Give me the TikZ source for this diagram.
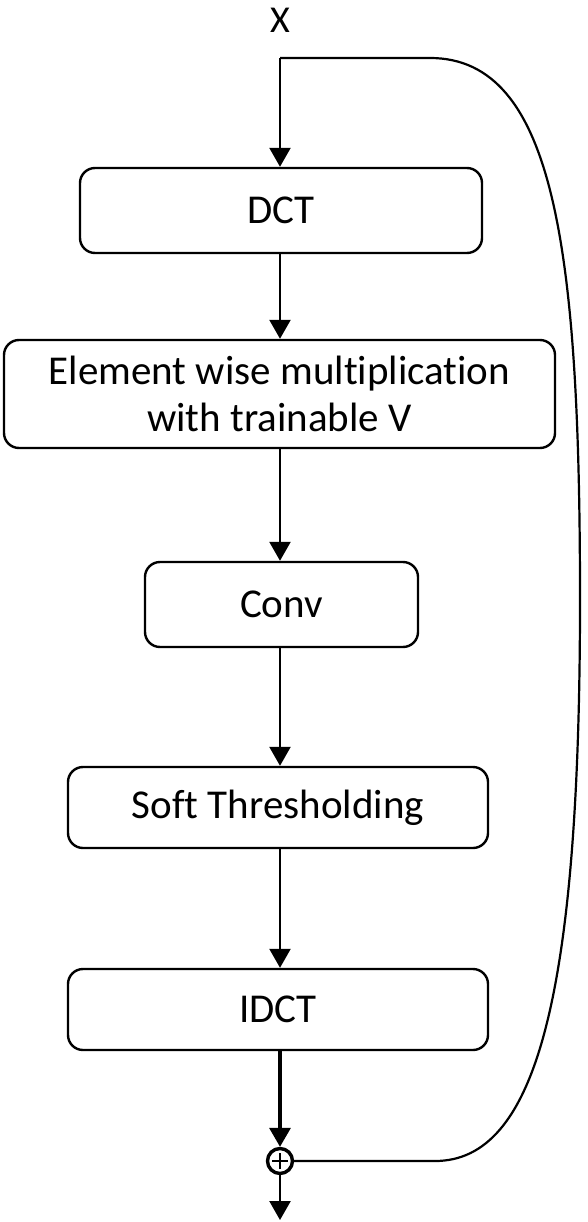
\documentclass[tikz,border=0pt]{standalone}
\usepackage{fontspec}
\setmainfont{Carlito}[Ligatures=NoCommon]
\usetikzlibrary{arrows.meta}
\begin{document}
\begin{tikzpicture}[x=1pt,y=-1pt,
  stepbox/.style={draw,line width=2.4pt,rounded corners=15pt,inner sep=0pt,align=center,font=\fontsize{41}{47}\selectfont},
  flow/.style={line width=2.4pt,-{Triangle[width=21pt,length=19pt]}},
  loop/.style={line width=2.2pt}]
\useasboundingbox (0,0) rectangle (588,1222);
\node[font=\fontsize{38}{44}\selectfont] (x) at (280,20) {X};
\coordinate (top) at (280,58);
\node[stepbox,minimum width=402pt,minimum height=85pt] (dct) at (281,210.5) {DCT};
\node[stepbox,minimum width=551pt,minimum height=108pt] (elem) at (279.5,394) {Element wise multiplication\\with trainable V};
\node[stepbox,minimum width=273pt,minimum height=85pt] (conv) at (281.5,604.5) {Conv};
\node[stepbox,minimum width=420pt,minimum height=81pt] (soft) at (278,807.5) {Soft Thresholding};
\node[stepbox,minimum width=420pt,minimum height=81pt] (idct) at (278,1009.5) {IDCT};
\node[circle,draw,line width=3.4pt,minimum size=25pt,inner sep=0pt,
  path picture={\draw[line width=2.4pt] (path picture bounding box.center) ++(-8pt,0) -- ++(16pt,0);
                \draw[line width=2.4pt] (path picture bounding box.center) ++(0,-8pt) -- ++(0,16pt);}] (plus) at (280,1161) {};
\coordinate (out) at (280,1220);
\draw[flow] (top) -- (dct.north -| top);
\draw[flow] (dct.south -| top) -- (elem.north -| top);
\draw[flow] (elem.south -| top) -- (conv.north -| top);
\draw[flow] (conv.south -| top) -- (soft.north -| top);
\draw[flow] (soft.south -| top) -- (idct.north -| top);
\draw[flow,line width=3.4pt] (idct.south -| top) -- (plus.north);
\draw[flow] (plus.south) -- (out);
\draw[loop] (top) -- (430,58) .. controls (555,58) and (580,250) .. (580,600)
  .. controls (580,1000) and (535,1161) .. (435,1161) -- (plus.east);
\end{tikzpicture}
\end{document}
